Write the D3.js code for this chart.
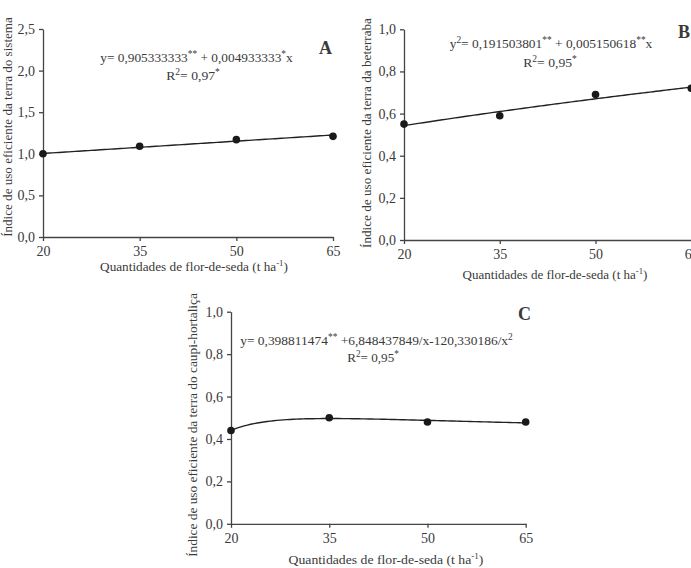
<!DOCTYPE html>
<html><head><meta charset="utf-8">
<script src="https://cdn.jsdelivr.net/npm/d3@7"></script>
<style>
html,body{margin:0;padding:0;background:#fff;}
svg{display:block;}
text{font-family:"Liberation Serif","Times New Roman",serif;fill:#3a3a3a;}
</style></head>
<body>
<svg id="chart" width="691" height="568"></svg>
<script>
// ---- data ----
const doses = [20, 35, 50, 65];
const valuesA = [1.00, 1.09, 1.17, 1.21];
const valuesB = [0.55, 0.59, 0.69, 0.72];
const valuesC = [0.44, 0.50, 0.48, 0.48];
const ticksA = [0, 0.5, 1.0, 1.5, 2.0, 2.5];
const ticksBC = [0, 0.2, 0.4, 0.6, 0.8, 1.0];
const coefA = [0.905333333, 0.004933333];
const coefB = [0.191503801, 0.005150618];
const coefC = [0.398811474, 6.848437849, -120.330186];

const svg = d3.select("#chart");
const fmt = d => d3.format(".1f")(d).replace(".", ",");

// squeeze/stretch a centered text horizontally to a target width
function fitW(sel, w, cx){
  if (!w) return;
  const bw = sel.node().getBBox().width;
  const k = w / bw;
  sel.attr("transform", `translate(${cx},0) scale(${k},1) translate(${-cx},0)`);
}

function panel(cfg){
  const g = svg.append("g");
  const x = d3.scaleLinear().domain([20, 65]).range([cfg.x0, cfg.x1]);
  const y = d3.scaleLinear().domain([0, cfg.ymax]).range([cfg.y0, cfg.y1]);
  const xa = g.append("g").attr("transform", `translate(0,${cfg.y0})`)
    .call(d3.axisBottom(x).tickValues(doses).tickSize(4).tickSizeOuter(0).tickPadding(5));
  const ya = g.append("g").attr("transform", `translate(${cfg.x0},0)`)
    .call(d3.axisLeft(y).tickValues(cfg.ticks).tickFormat(fmt).tickSize(4).tickSizeOuter(0).tickPadding(4));
  [xa, ya].forEach(a => {
    a.selectAll("path,line").attr("stroke", "#444").attr("stroke-width", 1.3);
    a.selectAll("text").style("font-family", '"Liberation Serif",serif').style("font-size", "14px").attr("fill", "#3a3a3a");
  });
  // fit curve
  const xs = d3.range(20, 65.01, 0.5);
  const line = d3.line().x(d => x(d)).y(d => y(cfg.fit(d)));
  g.append("path").datum(xs).attr("d", line).attr("fill", "none").attr("stroke", "#222").attr("stroke-width", 1.4);
  g.selectAll("circle").data(doses.map((d, i) => [d, cfg.values[i]])).enter().append("circle")
    .attr("cx", d => x(d[0])).attr("cy", d => y(d[1])).attr("r", 3.8).attr("fill", "#1a1a1a");
  // axis titles
  const xt = g.append("text").attr("x", cfg.xtX).attr("y", cfg.xtY)
    .attr("text-anchor", "middle").style("font-size", "13.5px")
    .html('Quantidades de flor-de-seda (t ha<tspan dy="-5" font-size="9">-1</tspan><tspan dy="5">)</tspan>');
  fitW(xt, cfg.xtW, cfg.xtX);
  const ytg = g.append("g").attr("transform", `translate(${cfg.ytX},${cfg.ytY}) rotate(-90)`);
  const yt = ytg.append("text").attr("x", 0).attr("y", 0)
    .attr("text-anchor", "middle").style("font-size", "13.5px").text(cfg.ytitle);
  fitW(yt, cfg.ytW, 0);
  // letter
  g.append("text").attr("x", cfg.lx).attr("y", cfg.ly).style("font-size", "18px").style("font-weight", "bold")
    .attr("fill", "#222").text(cfg.letter);
  // equations
  const e1 = g.append("text").attr("x", cfg.e1x).attr("y", cfg.e1y).attr("text-anchor", "middle").style("font-size", "13.5px").html(cfg.eq1);
  fitW(e1, cfg.e1w, cfg.e1x);
  const e2 = g.append("text").attr("x", cfg.e2x).attr("y", cfg.e2y).attr("text-anchor", "middle").style("font-size", "13.5px").html(cfg.eq2);
  fitW(e2, cfg.e2w, cfg.e2x);
}

const sup = (s) => `<tspan dy="-5" font-size="9.5">${s}</tspan><tspan dy="5">`;

panel({
  x0: 43, x1: 333, y0: 237, y1: 29, ymax: 2.5, ticks: ticksA, values: valuesA,
  fit: v => coefA[0] + coefA[1] * v,
  xtX: 194, xtY: 271, xtW: 188,
  ytX: 12, ytY: 127, ytW: 220, ytitle: "Índice de uso eficiente da terra do sistema",
  letter: "A", lx: 319, ly: 54,
  eq1: `y= 0,905333333${sup("**")} + 0,004933333</tspan>${sup("*")}x</tspan>`, e1x: 196.5, e1y: 62, e1w: 193,
  eq2: `R${sup("2")}= 0,97</tspan>${sup("*")}</tspan>`, e2x: 193, e2y: 80, e2w: 54
});
panel({
  x0: 404, x1: 691.3, y0: 240, y1: 29.3, ymax: 1.0, ticks: ticksBC, values: valuesB,
  fit: v => Math.sqrt(coefB[0] + coefB[1] * v),
  xtX: 555, xtY: 279, xtW: 185,
  ytX: 371, ytY: 133, ytW: 230, ytitle: "Índice de uso eficiente da terra da beterraba",
  letter: "B", lx: 678, ly: 38,
  eq1: `y${sup("2")}= 0,191503801</tspan>${sup("**")} + 0,005150618</tspan>${sup("**")}x</tspan>`, e1x: 551, e1y: 48, e1w: 203,
  eq2: `R${sup("2")}= 0,95</tspan>${sup("*")}</tspan>`, e2x: 550, e2y: 67, e2w: 54
});
panel({
  x0: 231, x1: 525.7, y0: 523.8, y1: 311.7, ymax: 1.0, ticks: ticksBC, values: valuesC,
  fit: v => coefC[0] + coefC[1] / v + coefC[2] / (v * v),
  xtX: 386, xtY: 564, xtW: 195,
  ytX: 197, ytY: 425, ytW: 264, ytitle: "Índice de uso eficiente da terra do caupi-hortaliça",
  letter: "C", lx: 518, ly: 320,
  eq1: `y= 0,398811474${sup("**")} +6,848437849/x-120,330186/x</tspan>${sup("2")}</tspan>`, e1x: 376.5, e1y: 345, e1w: 273,
  eq2: `R${sup("2")}= 0,95</tspan>${sup("*")}</tspan>`, e2x: 373, e2y: 362, e2w: 52
});
</script>
</body></html>
